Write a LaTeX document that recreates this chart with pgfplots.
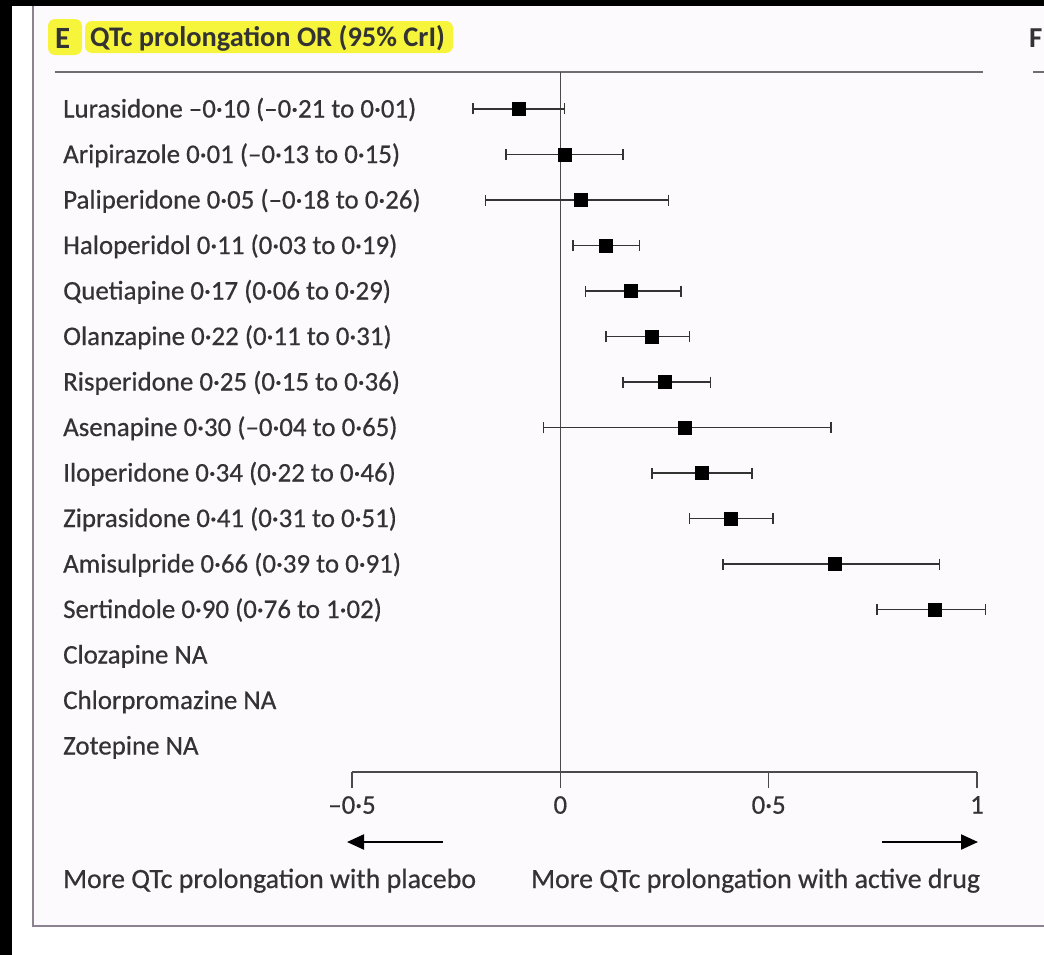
\documentclass[border=0pt]{standalone}
\usepackage{pgfplots}
\pgfplotsset{compat=1.18}
\usepackage{pgfplotstable}
\usepackage{fontspec}
\setmainfont{Carlito}
\newfontfamily\labfont{Carlito}[FakeBold=0.5]
\usetikzlibrary{arrows.meta}
\definecolor{txt}{HTML}{333333}
\definecolor{axcol}{HTML}{4A4A4A}
\definecolor{barcol}{HTML}{333333}
\definecolor{rulecol}{HTML}{6E6E6E}
\definecolor{hl}{HTML}{F7F43C}
\definecolor{panel}{HTML}{FDFAFD}
\definecolor{border}{HTML}{8C8290}
\newcommand\lab{\labfont\fontsize{27}{27}\selectfont}
\newcommand\botlab{\labfont\fontsize{28}{28}\selectfont}

\pgfplotstableread{
y    x     em    ep
-1  -0.10  0.11  0.11
-2   0.01  0.14  0.14
-3   0.05  0.23  0.21
-4   0.11  0.08  0.08
-5   0.17  0.11  0.12
-6   0.22  0.11  0.09
-7   0.25  0.10  0.11
-8   0.30  0.34  0.35
-9   0.34  0.12  0.12
-10  0.41  0.10  0.10
-11  0.66  0.27  0.25
-12  0.90  0.14  0.12
}\qtcdata

\begin{document}
\begin{tikzpicture}[x=1bp,y=-1bp]
\path[use as bounding box] (0,0) rectangle (1044,955);
\fill[black] (0,0) rectangle (1044,955);
\fill[white] (12,6) rectangle (1044,955);
\fill[panel] (33,6) rectangle (1044,926);
\draw[border, line width=1.6bp] (33,6) -- (33,926) -- (1044,926);
% title highlights
\fill[hl, rounded corners=7bp] (48,19) rectangle (82,55);
\fill[hl, rounded corners=7bp] (85,21) rectangle (453,53);
\node[anchor=base west, inner sep=0pt, text=txt, font=\fontsize{31}{31}\selectfont\bfseries] at (55,48) {E};
\node[anchor=base west, inner sep=0pt, text=txt, font=\fontsize{28.5}{28.5}\selectfont\bfseries] at (90,46) {QTc prolongation OR (95\% CrI)};
\draw[rulecol, line width=2bp] (55,72) -- (983,72);
% neighbouring panel F (cut off)
\node[anchor=base west, inner sep=0pt, text=txt, font=\fontsize{29}{29}\selectfont\bfseries] at (1029,47) {F};
\draw[rulecol, line width=2bp] (1033,72) -- (1044,72);

\begin{axis}[
  at={(352bp,-772bp)}, anchor=south west,
  scale only axis, width=625bp, height=700bp,
  xmin=-0.5, xmax=1, ymin=-15.571, ymax=-0.187,
  axis x line*=bottom, axis y line=none,
  x axis line style={-, draw=axcol, line width=1.6bp},
  xtick={-0.5,0,0.5,1},
  xticklabels={–0·5,0,0·5,1},
  tick align=outside, major tick length=16bp,
  xtick style={draw=axcol, line width=1.6bp},
  xticklabel style={font=\lab, text=txt, inner sep=0bp, yshift=-8bp},
  clip=false,
]
\draw[axcol, line width=1.6bp] (axis cs:0,-0.187) -- ([yshift=-16bp]axis cs:0,-15.571);
\addplot[only marks, mark=square*, mark size=6.5bp, mark options={black, line width=0pt},
  error bars/.cd, x dir=both, x explicit,
  error bar style={line width=1.6bp, color=barcol},
  error mark options={line width=1.6bp, mark size=5.5bp, color=barcol, rotate=90}]
  table[x=x, y=y, x error minus=em, x error plus=ep] {\qtcdata};
\end{axis}

% row labels
\begin{scope}[every node/.style={anchor=base west, inner sep=0pt, text=txt, font=\lab}]
\node at (63,117.5) {Lurasidone –0·10 (–0·21 to 0·01)};
\node at (63,163.0) {Aripirazole 0·01 (–0·13 to 0·15)};
\node at (63,208.5) {Paliperidone 0·05 (–0·18 to 0·26)};
\node at (63,254.0) {Haloperidol 0·11 (0·03 to 0·19)};
\node at (63,299.5) {Quetiapine 0·17 (0·06 to 0·29)};
\node at (63,345.0) {Olanzapine 0·22 (0·11 to 0·31)};
\node at (63,390.5) {Risperidone 0·25 (0·15 to 0·36)};
\node at (63,436.0) {Asenapine 0·30 (–0·04 to 0·65)};
\node at (63,481.5) {Iloperidone 0·34 (0·22 to 0·46)};
\node at (63,527.0) {Ziprasidone 0·41 (0·31 to 0·51)};
\node at (63,572.5) {Amisulpride 0·66 (0·39 to 0·91)};
\node at (63,618.0) {Sertindole 0·90 (0·76 to 1·02)};
\node at (63,663.5) {Clozapine NA};
\node at (63,709.0) {Chlorpromazine NA};
\node at (63,754.5) {Zotepine NA};
\node[font=\botlab] at (63,888) {More QTc prolongation with placebo};
\node[font=\botlab] at (531,888) {More QTc prolongation with active drug};
\end{scope}
% direction arrows
\draw[black, line width=2.2bp, -{Triangle[length=17bp,width=15bp]}] (443,842) -- (347,842);
\draw[black, line width=2.2bp, -{Triangle[length=17bp,width=15bp]}] (882,842) -- (978,842);
\end{tikzpicture}
\end{document}
